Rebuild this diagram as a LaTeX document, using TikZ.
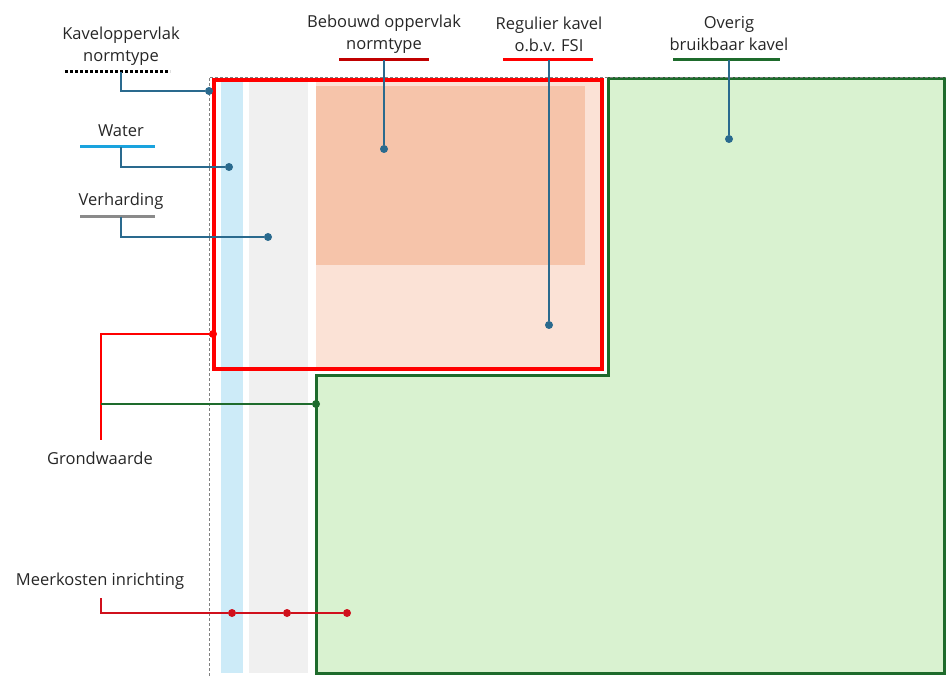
\documentclass[tikz,border=0pt]{standalone}
\usepackage{fontspec}
\setmainfont{Open Sans}
\usetikzlibrary{positioning}
\definecolor{kavelred}{HTML}{FF0000}
\definecolor{bebouwdred}{HTML}{C00000}
\definecolor{kostenred}{HTML}{D0101C}
\definecolor{linkblue}{HTML}{2A6A8E}
\definecolor{waterfill}{HTML}{CDEBF8}
\definecolor{waterline}{HTML}{1AA3DE}
\definecolor{paveFill}{HTML}{F0F0F0}
\definecolor{paveLine}{HTML}{8A8A8A}
\definecolor{salmonDark}{HTML}{F6C4AA}
\definecolor{salmonLight}{HTML}{FBE2D6}
\definecolor{greenFill}{HTML}{D9F2D0}
\definecolor{greenLine}{HTML}{1E6B2C}
\tikzset{
  lbl/.style={align=center, font=\fontsize{16.5}{22}\selectfont, text=black!85, inner sep=1pt},
  bar/.style={line width=3pt},
  link/.style={linkblue, line width=1.1pt},
  dot/.style={circle, fill=#1, inner sep=0pt, minimum size=8pt}
}
\begin{document}
\begin{tikzpicture}[x=1pt, y=-1pt]
    \useasboundingbox (0, 0) rectangle (946, 676);

    % vlakken
    \fill[waterfill] (221, 80) rectangle (243, 673);
    \fill[paveFill] (249, 80) rectangle (308, 673);
    \fill[salmonLight] (316, 80) rectangle (600, 367);
    \fill[salmonDark] (316, 86) rectangle (585, 265);
    \draw[greenLine, line width=3pt, fill=greenFill] (608, 79) -- (944, 79) -- (944, 673) -- (316, 673) -- (316, 376) -- (608, 376) -- cycle;
    \draw[kavelred, line width=4pt] (214, 80) rectangle (602, 369);
    \draw[gray, densely dashed, line width=0.6pt] (209, 676) -- (209, 77) -- (946, 77);

    % legenda
    \node[lbl] (kavel) at (121, 46) {Kaveloppervlak\\normtype};
    \node[lbl] (water) at (121, 131) {Water};
    \node[lbl] (verh) at (121, 201) {Verharding};
    \node[lbl] (bebouwd) at (384, 34) {Bebouwd oppervlak\\normtype};
    \node[lbl] (regulier) at (549, 34) {Regulier kavel\\o.b.v. FSI};
    \node[lbl] (overig) at (729, 34) {Overig\\bruikbaar kavel};
    \node[lbl] (grond) at (100, 458) {Grondwaarde};
    \node[lbl] (kosten) at (100, 581) {Meerkosten inrichting};

    \draw[line width=3pt, dotted] (65, 72) coordinate (kavelL) -- (170, 72);
    \draw[bar, waterline] (80, 147) -- (155, 147);
    \draw[bar, paveLine] (80, 217) -- (155, 217);
    \draw[bar, bebouwdred] (339, 60) -- (429, 60);
    \draw[bar, kavelred] (503, 60) -- (593, 60);
    \draw[bar, greenLine] (673, 60) -- (780, 60);

    % punten
    \node[dot=linkblue] (pKavel) at (209, 91) {};
    \node[dot=linkblue] (pWater) at (229, 167) {};
    \node[dot=linkblue] (pVerh) at (268, 237) {};
    \node[dot=linkblue] (pBebouwd) at (384, 149) {};
    \node[dot=linkblue] (pRegulier) at (549, 325) {};
    \node[dot=linkblue] (pOverig) at (729, 139) {};
    \node[dot=kavelred] (pRood) at (213, 334) {};
    \node[dot=greenLine] (pGroen) at (316, 404) {};
    \node[dot=kostenred] (k1) at (232, 613) {};
    \node[dot=kostenred] (k2) at (287, 613) {};
    \node[dot=kostenred] (k3) at (347, 613) {};

    % lijnen
    \draw[link] (121, 72) |- (pKavel);
    \draw[link] (121, 147) |- (pWater);
    \draw[link] (121, 217) |- (pVerh);
    \draw[link] (384, 60) -- (pBebouwd);
    \draw[link] (549, 60) -- (pRegulier);
    \draw[link] (729, 60) -- (pOverig);
    \draw[kavelred, line width=1.1pt] (101, 440) |- (pRood);
    \draw[greenLine, line width=1.1pt] (101, 404) -- (pGroen);
    \draw[kostenred, line width=1.1pt] (101, 598) |- (k1) -- (k2) -- (k3);
  \end{tikzpicture}
\end{document}
